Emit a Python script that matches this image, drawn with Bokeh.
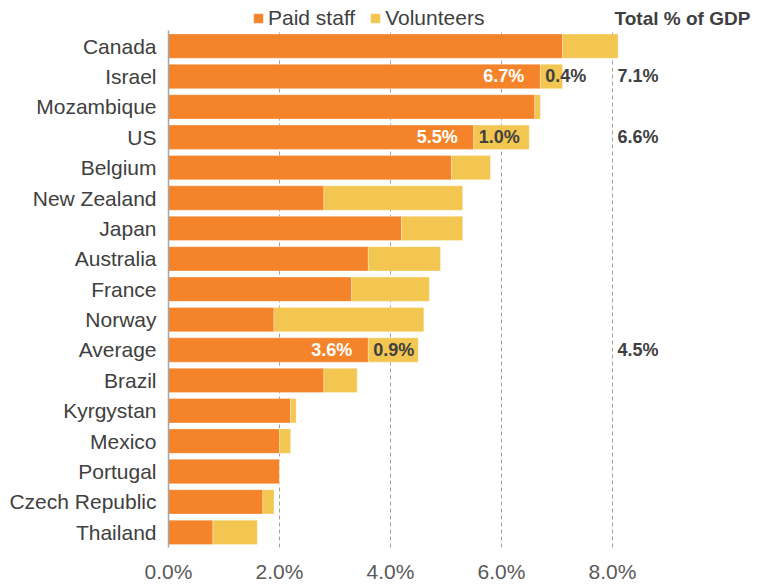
from bokeh.plotting import figure
from bokeh.models import ColumnDataSource, FactorRange, Range1d, FixedTicker, Label
from bokeh.core.properties import value
from bokeh.embed import file_html
from bokeh.resources import INLINE

# ---------------- data ----------------
categories = ["Canada", "Israel", "Mozambique", "US", "Belgium", "New Zealand", "Japan",
              "Australia", "France", "Norway", "Average", "Brazil", "Kyrgystan", "Mexico",
              "Portugal", "Czech Republic", "Thailand"]
paid = [7.1, 6.7, 6.6, 5.5, 5.1, 2.8, 4.2, 3.6, 3.3, 1.9, 3.6, 2.8, 2.2, 2.0, 2.0, 1.7, 0.8]
volunteers = [1.0, 0.4, 0.1, 1.0, 0.7, 2.5, 1.1, 1.3, 1.4, 2.7, 0.9, 0.6, 0.1, 0.2, 0.0, 0.2, 0.8]

label_rows = ["Israel", "US", "Average"]
label_paid = ["6.7%", "5.5%", "3.6%"]
label_vol = ["0.4%", "1.0%", "0.9%"]
label_total = ["7.1%", "6.6%", "4.5%"]

x_ticks = [0, 2, 4, 6, 8]
x_tick_labels = ["0.0%", "2.0%", "4.0%", "6.0%", "8.0%"]
series_names = ["Paid staff", "Volunteers"]
header = "Total % of GDP"

# ---------------- style ----------------
ORANGE = "#F5832A"
YELLOW = "#F2C650"
TEXT = "#404040"
TICK_TEXT = "#595959"
GRID = "#A0A0A0"
FONT = "Liberation Sans"

W, H = 769, 585
LEFT, RIGHT, TOP, BOTTOM = 168, 10, 0, 38
FRAME_H = H - TOP - BOTTOM
px_per_unit = 55.5
x_end = (W - LEFT - RIGHT) / px_per_unit
n = len(categories)
HEADER_ROW = " "   # empty top row that holds the legend and the header

source = ColumnDataSource(dict(country=categories, paid=paid, volunteers=volunteers))

p = figure(width=W, height=H, output_backend="svg", toolbar_location=None,
           y_range=FactorRange(factors=list(reversed(categories)) + [HEADER_ROW]),
           x_range=Range1d(0, x_end),
           min_border_left=LEFT, min_border_right=RIGHT,
           min_border_top=TOP, min_border_bottom=BOTTOM)
p.outline_line_color = None
p.background_fill_color = "white"
p.border_fill_color = "white"

# dashed gridlines, only over the category rows
grid_x = [t for t in x_ticks if t > 0]
p.segment(x0=grid_x, x1=grid_x, y0=[0] * len(grid_x), y1=[n] * len(grid_x),
          line_color=GRID, line_dash="4 3", line_width=1)

p.hbar_stack(["paid", "volunteers"], y="country", height=0.8, color=[ORANGE, YELLOW],
             line_color="white", line_width=0.5, line_alpha=0.6,
             source=source, legend_label=series_names)

# labels in bars
idx = [categories.index(r) for r in label_rows]
lab_src = ColumnDataSource(dict(
    y=label_rows,
    xp=[paid[i] for i in idx],
    tp=label_paid,
    tv=label_vol,
    xt=[max(x_ticks)] * len(label_rows),
    tt=label_total,
))
common = dict(text_font=value(FONT), text_font_size="18px", text_font_style="bold",
              text_baseline="middle", source=lab_src)
p.text(x="xp", y="y", text="tp", text_align="right", x_offset=-16,
       text_color="white", **common)
p.text(x="xp", y="y", text="tv", text_align="left", x_offset=5,
       text_color=TEXT, **common)
p.text(x="xt", y="y", text="tt", text_align="left", x_offset=5,
       text_color=TEXT, **common)

p.add_layout(Label(x=max(x_ticks), y=n + 0.5, y_offset=-3,
                   x_offset=2, text=header, text_font=FONT, text_font_size="19px",
                   text_font_style="bold", text_color=TEXT, text_baseline="middle"))

# axes
p.xaxis.ticker = FixedTicker(ticks=x_ticks)
p.xaxis.major_label_overrides = {t: l for t, l in zip(x_ticks, x_tick_labels)}
p.xaxis.axis_line_color = None
p.xaxis.major_tick_line_color = None
p.xaxis.minor_tick_line_color = None
p.xaxis.major_label_text_font = FONT
p.xaxis.major_label_text_font_size = "21px"
p.xaxis.major_label_text_color = TICK_TEXT
p.xaxis.major_label_standoff = 6

p.yaxis.axis_line_color = "#A6A6A6"
p.yaxis.axis_line_width = 1.5
p.yaxis.bounds = (0, n)
p.yaxis.major_tick_line_color = None
p.yaxis.minor_tick_line_color = None
p.yaxis.major_label_text_font = FONT
p.yaxis.major_label_text_font_size = "21px"
p.yaxis.major_label_text_color = TEXT
p.yaxis.major_label_standoff = 6

p.xgrid.grid_line_color = None
p.ygrid.grid_line_color = None

# legend
lg = p.legend[0]
lg.orientation = "horizontal"
lg.location = (84, FRAME_H - 30)
lg.padding = 0
lg.margin = 0
lg.spacing = 14
lg.glyph_width = 12
lg.glyph_height = 12
lg.label_standoff = 4
lg.label_text_font = FONT
lg.label_text_font_size = "21px"
lg.label_text_color = TEXT
lg.label_height = 20
lg.border_line_color = None
lg.background_fill_alpha = 0

open("out.html", "w").write(file_html(p, INLINE))
